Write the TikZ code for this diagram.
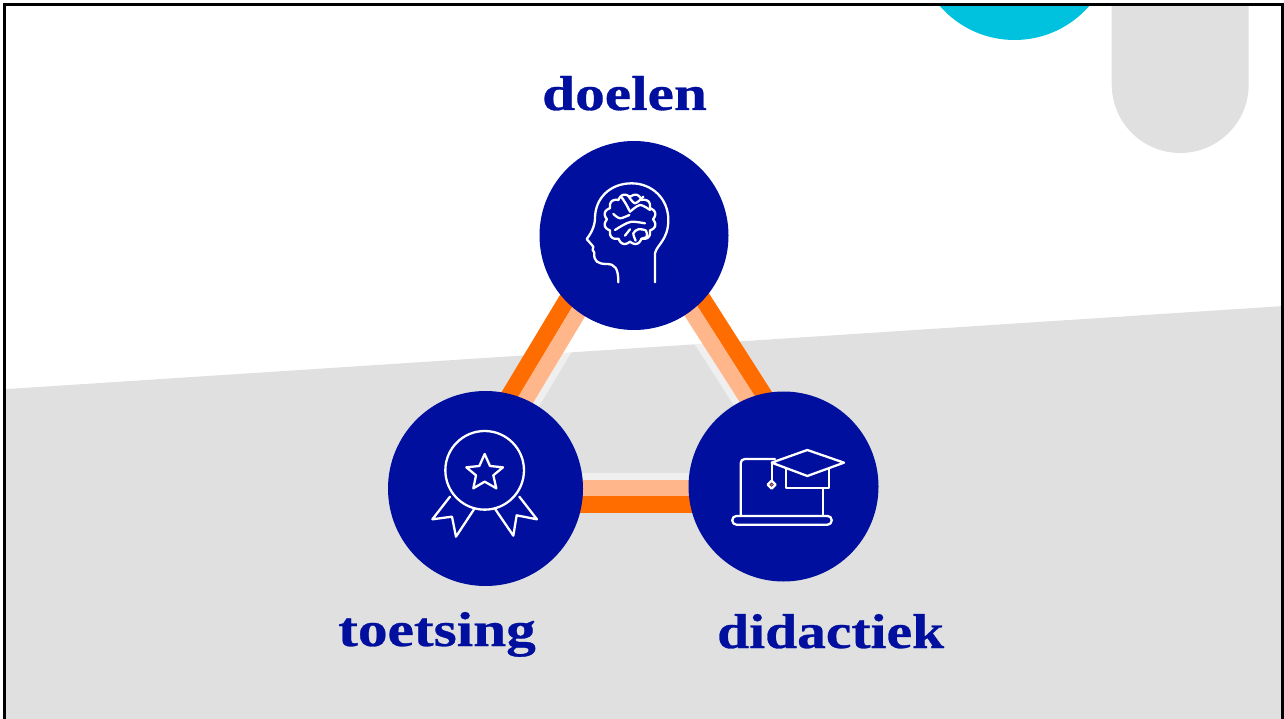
\documentclass[tikz,border=0pt]{standalone}
\usepackage{xcolor}
\usepackage{fontspec}
\setmainfont[BoldFeatures={FakeStretch=1.21,FakeBold=0.6}]{Liberation Serif}
\usetikzlibrary{backgrounds}
\definecolor{navy}{RGB}{0,15,158}
\definecolor{barorange}{RGB}{255,108,0}
\definecolor{barpeach}{RGB}{255,182,138}
\definecolor{backgrey}{RGB}{224,224,224}
\definecolor{topcyan}{RGB}{0,193,222}
\tikzset{
	circlenode/.style={circle,fill=navy,inner sep=0pt,minimum size=#1},
	labeltext/.style={anchor=base west,inner sep=0pt,text=navy,font=\fontsize{49}{49}\selectfont\bfseries},
	iconline/.style={draw=white,line width=2.3pt,line join=round,line cap=round},
	orangebar/.style={draw=barorange,line width=16.7pt},
	peachbar/.style={draw=barpeach,line width=16pt},
	palebar/.style={draw=white,draw opacity=.5,line width=6.7pt}
}
\begin{document}
\begin{tikzpicture}[x=1pt,y=-1pt]
	\useasboundingbox (0,0) rectangle (1284,719);

	\node [circlenode=189pt] (doelen) at (634,235.5) {};
	\node [circlenode=195pt] (toetsing) at (485.5,488.5) {};
	\node [circlenode=190pt] (didactiek) at (783.5,486.5) {};

	\node [labeltext] (doelenlabel) at (542,110) {doelen};
	\node [labeltext] (toetsinglabel) at (338,646) {toetsing};
	\node [labeltext,xscale=.97,transform shape] (didactieklabel) at (717,648) {didactiek};

	\begin{pgfonlayer}{background}
		\begin{scope}
			\clip (5,5) rectangle (1281,719);
			\fill [backgrey] (0,389.5) -- (1284,306) -- (1284,719) -- (0,719) -- cycle;
			\fill [topcyan] (1014.5,-59) circle [radius=99];
			\fill [backgrey] (1111.7,0) -- (1111.7,84.5) arc [start angle=180,end angle=0,radius=68.5] -- (1248.7,0) -- cycle;
		\end{scope}

		\draw [orangebar] ([shift={(18.3,-83.9)}]toetsing.center) -- ([shift={(-61.7,55.2)}]doelen.center);
		\draw [peachbar] ([shift={(32.3,-75.5)}]toetsing.center) -- ([shift={(-47.7,63.6)}]doelen.center);
		\draw [palebar] ([shift={(42,-69.7)}]toetsing.center) -- ([shift={(-38,69.4)}]doelen.center);

		\draw [orangebar] ([shift={(63.6,55.6)}]doelen.center) -- ([shift={(-13.4,-81.9)}]didactiek.center);
		\draw [peachbar] ([shift={(49.8,64.4)}]doelen.center) -- ([shift={(-27.2,-73.1)}]didactiek.center);
		\draw [palebar] ([shift={(40.3,70.5)}]doelen.center) -- ([shift={(-36.7,-67)}]didactiek.center);

		\draw [orangebar] ([shift={(0,15.8)}]toetsing.center) -- ([shift={(0,17.8)}]didactiek.center);
		\draw [peachbar] ([shift={(0,-0.5)}]toetsing.center) -- ([shift={(0,1.5)}]didactiek.center);
		\draw [palebar] ([shift={(0,-11.9)}]toetsing.center) -- ([shift={(0,-9.9)}]didactiek.center);
	\end{pgfonlayer}

	\draw [line width=3pt,black] (4.5,719) -- (4.5,4.5) -- (1282,4.5) -- (1282,719);

	% head with brain
	\begin{scope}[shift={(540,140)},x=.3333pt,y=-.3333pt,iconline]
		\draw (345,427) -- (345,340) .. controls (350,315) and (385,300) .. (385,240) .. controls (385,175) and (335,130) .. (275,130) .. controls (210,130) and (165,175) .. (165,235) .. controls (165,260) and (150,285) .. (140,297) -- (160,320) -- (158,330) -- (163,338) .. controls (160,365) and (175,372) .. (200,372) .. controls (225,372) and (235,385) .. (235,427);
		\draw plot [domain=0:360,samples=181] ({270+(69+9*abs(sin(6*\x)))*cos(\x)},{238+(67+9*abs(sin(6*\x)))*sin(\x)}) -- cycle;
		\draw plot [smooth] coordinates {(245,172) (258,192) (270,215)};
		\draw plot [smooth] coordinates {(265,168) (285,190) (310,170)};
		\draw plot [smooth] coordinates {(270,215) (300,195) (330,210)};
		\draw plot [smooth] coordinates {(220,222) (240,235) (268,225)};
		\draw plot [smooth] coordinates {(225,270) (250,255) (275,245) (315,250)};
		\draw plot [smooth] coordinates {(255,287) (270,268)};
		\draw plot [smooth] coordinates {(287,302) (280,280) (295,268) (318,272) (320,290) (305,296)};
	\end{scope}

	% medal
	\begin{scope}[shift={(388,390)},x=.3333pt,y=-.3333pt,iconline]
		\draw (290,241) circle [radius=118pt*.3333];
		\draw (290,192) -- (306,228) -- (345,232) -- (316,256) -- (325,295) -- (290,275) -- (256,295) -- (264,256) -- (235,232) -- (274,228) -- cycle;
		\draw (186,320) -- (133,388) -- (192,380) -- (204,440) -- (258,358);
		\draw (394,320) -- (447,388) -- (386,376) -- (376,437) -- (322,358);
	\end{scope}

	% laptop with cap
	\begin{scope}[shift={(690,390)},x=.3333pt,y=-.3333pt,iconline]
		\draw (255,207) -- (165,207) .. controls (157,207) and (152,212) .. (152,220) -- (152,378);
		\draw (398,295) -- (398,378);
		\draw [rounded corners=4pt] (127,378) rectangle (425,404);
		\draw (245,218) -- (352,180) -- (462,218) -- (352,258) -- cycle;
		\draw (288,238) -- (288,293) -- (417,293) -- (417,238);
		\draw (245,218) -- (245,272);
		\draw (245,272) -- (257,284) -- (245,296) -- (233,284) -- cycle;
		\fill [barorange] (245,284) circle [radius=1.3pt];
	\end{scope}
\end{tikzpicture}
\end{document}
